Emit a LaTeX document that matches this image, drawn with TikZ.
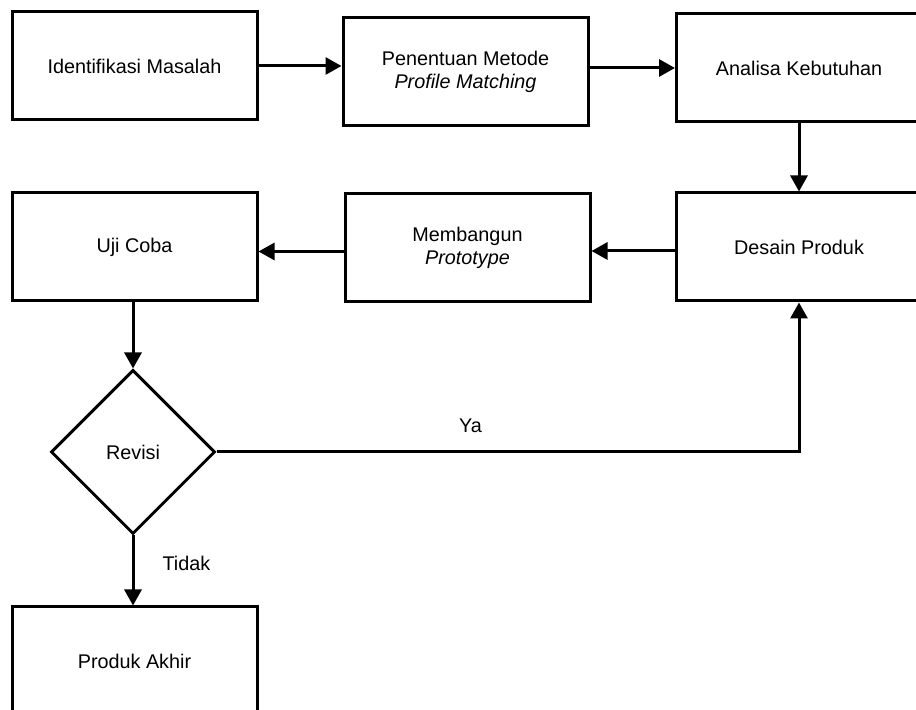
\documentclass[tikz,border=0pt]{standalone}
\usepackage{fontspec}
\setmainfont{Liberation Sans}
\usetikzlibrary{arrows.meta,positioning,shapes.geometric}

\begin{document}
\begin{tikzpicture}[
  x=0.5pt, y=-0.5pt,
  box/.style={draw, line width=1.5pt, minimum width=122.5pt, minimum height=54pt,
              font=\fontsize{9.9}{11.5}\selectfont, align=center},
  dec/.style={draw, diamond, aspect=1, line width=1.5pt,
              minimum width=82pt, minimum height=82pt,
              font=\fontsize{9.9}{11.5}\selectfont},
  lbl/.style={font=\fontsize{9.9}{11.5}\selectfont, inner sep=2pt},
  arrow/.style={-{Triangle[length=8pt,width=8.5pt]}, line width=1.5pt},
]
\useasboundingbox (0,0) rectangle (916,710);

% ---- first row ----
\node[box] (idm) at (134.5,66) {Identifikasi Masalah};
\node[box] (pm) at (465.5,71.5) {Penentuan Metode\\\textit{Profile Matching}};
\node[box] (ak) at (799,68) {Analisa Kebutuhan};

% ---- second row ----
\node[box] (dp) at (799,247) {Desain Produk};
\node[box] (mp) at (467.5,247.5) {Membangun\\\textit{Prototype}};
\node[box] (uc) at (134.5,247) {Uji Coba};

% ---- decision and result ----
\node[dec] (rev) at (133,452) {Revisi};
\node[box] (pa) at (134.5,661) {Produk Akhir};

% ---- Connections ----
\draw[arrow] (idm.east) -- (idm.east -| pm.west);
\draw[arrow] (pm.east |- ak.west) -- (ak.west);
\draw[arrow] (ak.south) -- (dp.north);
\draw[arrow] ([yshift=-2pt]dp.west) -- ([yshift=-2pt]dp.west -| mp.east);
\draw[arrow] ([yshift=-2pt]mp.west) -- ([yshift=-2pt]mp.west -| uc.east);
\draw[arrow] (uc.south -| rev.north) -- (rev.north);
\draw[arrow] (rev.south) -- (rev.south |- pa.north)
  node[pos=0.4, right=12pt, lbl]{Tidak};
\draw[arrow] (rev.east) -| (dp.south)
  node[pos=0.218, above=7pt, lbl]{Ya};

\end{tikzpicture}
\end{document}
